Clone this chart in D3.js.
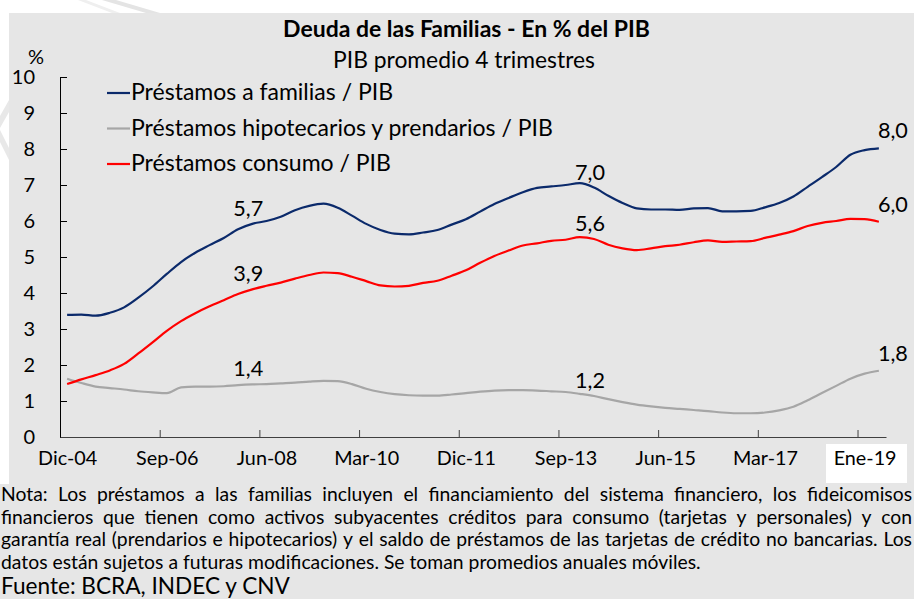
<!DOCTYPE html>
<html><head><meta charset="utf-8">
<script src="https://cdn.jsdelivr.net/npm/d3@7"></script>
<style>
html,body{margin:0;padding:0;background:#fff;}
svg{display:block;}
text{font-family:Lato,"Open Sans",sans-serif;fill:#000;}
</style></head>
<body><svg id="c" width="914" height="599"></svg>
<script>
// ---------- DATA ----------
const quarters = ["2004-12","2005-03","2005-06","2005-09","2005-12","2006-03","2006-06","2006-09","2006-12","2007-03",
"2007-06","2007-09","2007-12","2008-03","2008-06","2008-09","2008-12","2009-03","2009-06","2009-09",
"2009-12","2010-03","2010-06","2010-09","2010-12","2011-03","2011-06","2011-09","2011-12","2012-03",
"2012-06","2012-09","2012-12","2013-03","2013-06","2013-09","2013-12","2014-03","2014-06","2014-09",
"2014-12","2015-03","2015-06","2015-09","2015-12","2016-03","2016-06","2016-09","2016-12","2017-03",
"2017-06","2017-09","2017-12","2018-03","2018-06","2018-09","2018-12","2019-03"];

const familias = [3.39,3.40,3.37,3.45,3.60,3.87,4.18,4.53,4.86,5.12,
5.33,5.53,5.77,5.92,6.00,6.12,6.30,6.42,6.48,6.37,
6.15,5.92,5.75,5.65,5.63,5.68,5.75,5.90,6.05,6.26,
6.47,6.64,6.80,6.92,6.96,7.00,7.05,6.93,6.70,6.50,
6.35,6.32,6.32,6.31,6.35,6.36,6.27,6.27,6.28,6.38,
6.50,6.68,6.95,7.22,7.50,7.84,7.97,8.02];

const hipotecarios = [1.62,1.50,1.40,1.36,1.32,1.27,1.24,1.22,1.38,1.40,
1.40,1.41,1.44,1.46,1.47,1.49,1.51,1.54,1.56,1.55,
1.47,1.34,1.25,1.19,1.16,1.15,1.15,1.18,1.22,1.26,
1.29,1.30,1.30,1.29,1.27,1.25,1.20,1.14,1.05,0.97,
0.90,0.85,0.81,0.78,0.75,0.72,0.68,0.66,0.66,0.68,
0.74,0.84,1.02,1.22,1.42,1.62,1.76,1.84];

const consumo = [1.47,1.60,1.72,1.85,2.03,2.32,2.63,2.95,3.22,3.44,
3.63,3.80,3.97,4.10,4.20,4.29,4.40,4.50,4.57,4.55,
4.45,4.33,4.21,4.18,4.20,4.28,4.34,4.48,4.63,4.84,
5.03,5.18,5.32,5.38,5.45,5.48,5.55,5.50,5.34,5.24,
5.19,5.24,5.30,5.34,5.41,5.46,5.42,5.43,5.44,5.53,
5.62,5.72,5.86,5.95,6.00,6.06,6.05,5.98];

const seriesNames = ["Préstamos a familias / PIB","Préstamos hipotecarios y prendarios / PIB","Préstamos consumo / PIB"];
const seriesColors = ["#0B2A6B","#A6A6A6","#FF0000"];
const xTickLabels = ["Dic-04","Sep-06","Jun-08","Mar-10","Dic-11","Sep-13","Jun-15","Mar-17","Ene-19"];
const yTicks = [0,1,2,3,4,5,6,7,8,9,10];
// annotations: [text, series index, quarter]
const annotations = [["5,7",0,"2008-03"],["3,9",2,"2008-03"],["1,4",1,"2008-03"],
["7,0",0,"2014-03"],["5,6",2,"2014-03"],["1,2",1,"2014-03"],
["8,0",0,"2019-03"],["6,0",2,"2019-03"],["1,8",1,"2019-03"]];
const titleText = "Deuda de las Familias - En % del PIB";
const subtitleText = "PIB promedio 4 trimestres";
const noteLines = ["Nota: Los préstamos a las familias incluyen el financiamiento del sistema financiero, los fideicomisos",
"financieros que tienen como activos subyacentes créditos para consumo (tarjetas y personales) y con",
"garantía real (prendarios e hipotecarios) y el saldo de préstamos de las tarjetas de crédito no bancarias. Los",
"datos están sujetos a futuras modificaciones. Se toman promedios anuales móviles."];
const sourceText = "Fuente: BCRA, INDEC y CNV";

// ---------- HELPERS ----------
const svg = d3.select("#c");
function monthIdx(s){const [y,m]=s.split("-").map(Number);return (y-2004)*12+(m-11);}
function fit(sel, target){
  const base = parseFloat(sel.attr("font-size"));
  const w = sel.node().getComputedTextLength();
  const fs = base*target/w;
  sel.attr("font-size", fs);
  return fs;
}
function measure(txt, fs, weight){
  const t = svg.append("text").attr("font-size",fs).attr("font-weight",weight||"normal").text(txt);
  const w = t.node().getComputedTextLength(); t.remove(); return w;
}

// ---------- BACKGROUND / WATERMARK ----------
const wm = svg.append("g").attr("fill","#e4e4e4");
wm.append("polygon").attr("points","102,0 116,0 160,13 146,13");
wm.append("polygon").attr("points","78,0 86,0 120,13 112,13").attr("fill","#efefef");
wm.append("polygon").attr("points","9,100 9,112 0,128 0,116").attr("fill","#e8e8e8");
wm.append("polygon").attr("points","0,130 0,142 9,160 9,148").attr("fill","#e8e8e8");
svg.append("rect").attr("x",9).attr("y",13).attr("width",905).attr("height",586).attr("fill","#E6E6E6");
svg.append("rect").attr("x",0).attr("y",484).attr("width",914).attr("height",115).attr("fill","#E6E6E6");

// ---------- SCALES ----------
const x = d3.scaleLinear().domain([0,174]).range([60,886]);
const y = d3.scaleLinear().domain([0,10]).range([437,77]);
const px = q => x(monthIdx(q)+0.5);

// ---------- AXES ----------
const yAx = svg.append("g").attr("transform","translate(60,0)")
  .call(d3.axisLeft(y).tickValues(yTicks).tickSizeInner(-7).tickSizeOuter(0).tickPadding(25));
yAx.select(".domain").attr("stroke","#000");
yAx.selectAll(".tick line").attr("stroke","#000");
yAx.selectAll("text").attr("font-size",20).attr("font-family","Lato").attr("fill","#000");

const boundaries = d3.range(21,174,21);
const xAx = svg.append("g").attr("transform","translate(0,437)")
  .call(d3.axisBottom(x).tickValues(boundaries).tickSizeInner(-7).tickSizeOuter(0).tickFormat(""));
xAx.select(".domain").attr("stroke","#404040");
xAx.selectAll(".tick line").attr("stroke","#404040");

const labelIdx = xTickLabels.map((d,i)=>1+21*i+0.5);
// white box behind last label
svg.append("rect").attr("x",826).attr("y",444).attr("width",81).attr("height",39).attr("fill","#fff");
const xl = svg.append("g").attr("transform","translate(0,437)")
  .call(d3.axisBottom(x).tickValues(labelIdx).tickSize(0).tickPadding(14).tickFormat((d,i)=>xTickLabels[i]));
xl.select(".domain").remove();
xl.selectAll("text").attr("font-family","Lato").attr("fill","#000").attr("font-size",19).attr("dy","0.71em");
{ const t = xl.selectAll("text").filter((d,i)=>i===7); const fs = fit(t,65); xl.selectAll("text").attr("font-size",fs); }

svg.append("text").attr("x",36).attr("y",64).attr("text-anchor","middle").attr("font-size",20).text("%");

// ---------- LINES ----------
const data = [familias, hipotecarios, consumo];
const line = d3.line().x((d,i)=>px(quarters[i])).y(d=>y(d)).curve(d3.curveMonotoneX);
[1,2,0].forEach(k=>{
  svg.append("path").datum(data[k]).attr("d",line).attr("fill","none")
    .attr("stroke",seriesColors[k]).attr("stroke-width",2.2).attr("stroke-linejoin","round");
});

// ---------- ANNOTATIONS ----------
const ann = svg.append("g");
let annFs = 20;
{ const w = measure("7,0",20); annFs = 20*30/w; }
annotations.forEach(([t,k,q])=>{
  const i = quarters.indexOf(q);
  const isEnd = i===quarters.length-1;
  ann.append("text").attr("x",px(q)+(isEnd?14:-4)).attr("y",y(data[k][i])-(isEnd?10:8))
    .attr("text-anchor","middle").attr("font-size",annFs).text(t);
});

// ---------- TITLE ----------
const tt = svg.append("text").attr("x",466.5).attr("y",37).attr("text-anchor","middle")
  .attr("font-weight","bold").attr("font-size",18).text(titleText);
fit(tt,367);
const st = svg.append("text").attr("x",464).attr("y",68).attr("text-anchor","middle")
  .attr("font-size",20).text(subtitleText);
fit(st,262);

// ---------- LEGEND ----------
const legY = [93,128.5,164];
let legFs = 20;
{ const w = measure(seriesNames[1],20); legFs = 20*422/w; }
seriesNames.forEach((n,k)=>{
  svg.append("line").attr("x1",107).attr("x2",130).attr("y1",legY[k]).attr("y2",legY[k])
    .attr("stroke",seriesColors[k]).attr("stroke-width",2.2);
  svg.append("text").attr("x",131).attr("y",legY[k]+7).attr("font-size",legFs).text(n);
});

// ---------- NOTE ----------
let noteFs = 16;
{ const w = measure(noteLines[3],16); noteFs = 16*700/w; }
const noteBase = [501,523.5,546,568.5];
noteLines.forEach((ln,li)=>{
  const words = ln.split(" ");
  const x0 = 1, x1 = 912;
  const t = svg.append("text").attr("y",noteBase[li]).attr("font-size",noteFs);
  if(li===noteLines.length-1){ t.attr("x",x0).text(ln); return; }
  const ws = words.map(w=>measure(w,noteFs));
  const gap = (x1-x0-d3.sum(ws))/(words.length-1);
  let cx = x0;
  words.forEach((w,j)=>{ t.append("tspan").attr("x",cx).text(w); cx += ws[j]+gap; });
});
const src = svg.append("text").attr("x",1).attr("y",594).attr("font-size",20).text(sourceText);
fit(src,289);
</script></body></html>
